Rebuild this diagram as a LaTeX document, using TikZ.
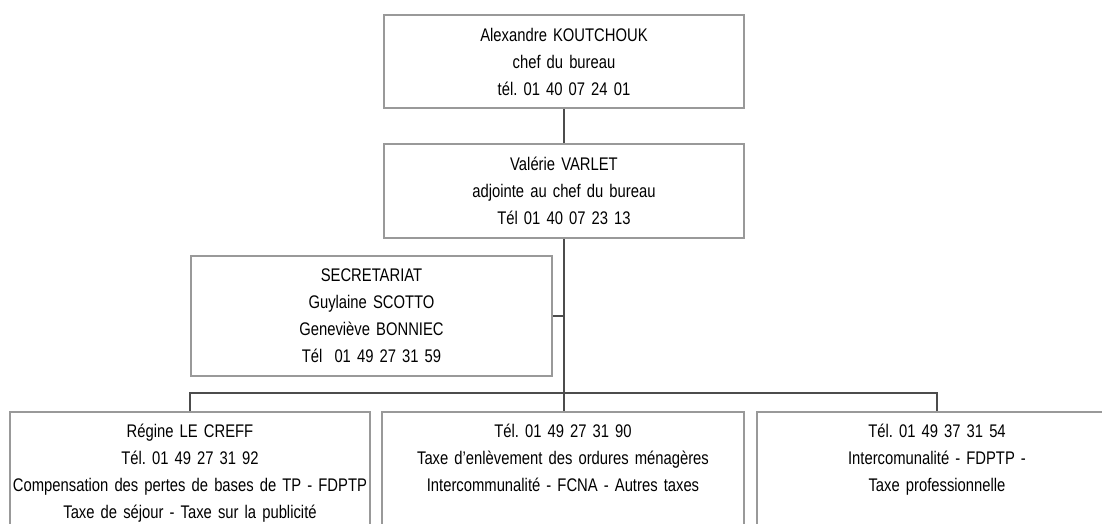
\documentclass[tikz,border=0pt]{standalone}
\usepackage{fontspec}
\setmainfont{Liberation Sans}[FakeStretch=0.81]
\begin{document}
\frenchspacing
\begin{tikzpicture}[x=0.25mm, y=-0.25mm,
    box/.style={draw=black!40, line width=0.45mm, align=center, inner xsep=0.5mm, inner ysep=0,
        text width=89mm, font=\fontsize{13}{19.2}\selectfont},
    lowbox/.style={box, anchor=north, text height=5.5mm, text depth=30mm, inner ysep=1mm},
    link/.style={draw=black!70, line width=0.45mm}]
\path[use as bounding box, clip] (0, 0) rectangle (1102, 524);
% direction
\node[box, minimum height=23.25mm] (chef) at (564, 61.5)
    {Alexandre KOUTCHOUK\\chef du bureau\\tél. 01 40 07 24 01};
\node[box, minimum height=23.5mm] (adjointe) at (564, 191)
    {Valérie VARLET\\adjointe au chef du bureau\\Tél 01 40 07 23 13};
\node[box, text width=89.25mm, minimum height=30mm] (secretariat) at (371.5, 316)
    {SECRETARIAT\\Guylaine SCOTTO\\Geneviève BONNIEC\\Tél~~01 49 27 31 59};
% bureaux
\node[lowbox] (regine) at (190, 411)
    {Régine LE CREFF\\Tél. 01 49 27 31 92\\\makebox[\linewidth]{Compensation des pertes de bases de TP - FDPTP}\\Taxe de séjour - Taxe sur la publicité};
\node[lowbox, text width=89.5mm] (ordures) at (563, 411)
    {Tél. 01 49 27 31 90\\Taxe d'enlèvement des ordures ménagères\\Intercommunalité - FCNA - Autres taxes};
\node[lowbox] (tp) at (937, 411)
    {Tél. 01 49 37 31 54\\Intercomunalité - FDPTP -\\Taxe professionnelle};
% liens
\coordinate (bus) at (564, 393);
\draw[link] (chef) -- (adjointe);
\draw[link] (adjointe.south) -- (adjointe.south |- ordures.north);
\draw[link] (secretariat.east) -- (secretariat.east -| adjointe.south);
\draw[link] (regine.north) |- (bus) -| (tp.north);
\end{tikzpicture}
\end{document}
